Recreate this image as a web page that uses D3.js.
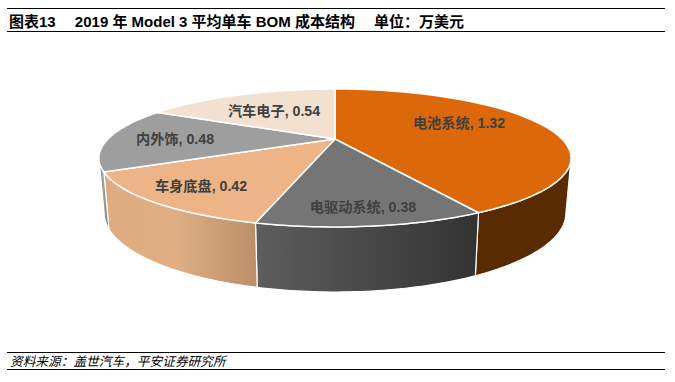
<!DOCTYPE html>
<html><head><meta charset="utf-8">
<script src="https://cdnjs.cloudflare.com/ajax/libs/d3/7.8.5/d3.min.js"></script>
<style>
html,body{margin:0;padding:0;background:#fff;overflow:hidden}
text{font-family:"Liberation Sans","Noto Sans CJK SC",sans-serif}
</style></head><body>
<svg id="c" width="675" height="382"></svg>
<script>
const categories=["电池系统","电驱动系统","车身底盘","内外饰","汽车电子"];
const values=[1.32,0.38,0.42,0.48,0.54];
const topColors=["#DC680A","#757575","#EDB487","#9E9E9E","#F2E0D0"];
const sideStart=["#582B03","#5E5E5E","#DFAC80","#8F8F8F","#F2E0D0"];
const sideMid=["#582B03","#4A4A4A","#E2AF85","#A0A0A0","#F2E0D0"];
const sideEnd=["#582B03","#333333","#BA8F68","#808080","#F2E0D0"];
const labelPos=[[459,122.5],[363,207],[201,186],[175,139],[274,111]];
const titleText="图表13\u3000 2019 年 Model 3 平均单车 BOM 成本结构\u3000 单位：万美元";
const sourceText="资料来源：盖世汽车，平安证券研究所";

const svg=d3.select("#c");
const k=0.275, cx=335;
const top3={a:227,b:63.75,cy:139};
const bot3={a:222,b:73,cy:191.3};
const xS=r=>d3.scaleLinear().domain([-1,1]).range([cx-r.a,cx+r.a]);
const yS=r=>d3.scaleLinear().domain([-1,1]).range([r.cy-r.b,r.cy+r.b]);
function proj(r,t){
  const u=Math.sin(t), v=-Math.cos(t), d=1-k*v;
  return [xS(r)(u/d),yS(r)(v/d)];
}
const pie=d3.pie().sort(null)(values);
const line=d3.line();
const samples=(a,b)=>d3.range(0,41).map(i=>a+(b-a)*i/40);
const visA=1.85, visB=2*Math.PI-1.85;

const defs=svg.append("defs");
categories.forEach((c,i)=>{
  const g=defs.append("linearGradient").attr("id","g"+i);
  g.append("stop").attr("offset","0%").attr("stop-color",sideStart[i]);
  g.append("stop").attr("offset","45%").attr("stop-color",sideMid[i]);
  g.append("stop").attr("offset","100%").attr("stop-color",sideEnd[i]);
});

// side walls, front half only
svg.append("g").selectAll("path").data(pie.filter(d=>d.endAngle>visA&&d.startAngle<visB)).join("path")
  .attr("d",d=>{
    const ts=samples(Math.max(d.startAngle,visA),Math.min(d.endAngle,visB));
    return line(ts.map(t=>proj(top3,t)).concat(ts.slice().reverse().map(t=>proj(bot3,t))))+"Z";
  })
  .attr("fill",d=>`url(#g${d.index})`)
  .attr("stroke","#fff").attr("stroke-width",1.2).attr("stroke-linejoin","round");

// top faces
svg.append("g").selectAll("path").data(pie).join("path")
  .attr("d",d=>{
    const pts=[[cx,top3.cy]].concat(samples(d.startAngle,d.endAngle).map(t=>proj(top3,t)));
    return line(pts)+"Z";
  })
  .attr("fill",d=>topColors[d.index])
  .attr("stroke","#fff").attr("stroke-width",1.5).attr("stroke-linejoin","round");

// labels
svg.append("g").selectAll("text").data(pie).join("text")
  .attr("x",d=>labelPos[d.index][0]).attr("y",d=>labelPos[d.index][1])
  .attr("dy","0.36em").attr("text-anchor","middle")
  .attr("font-size",14.2).attr("font-weight","bold").attr("fill","#404040")
  .text(d=>`${categories[d.index]}, ${d3.format(".2f")(d.value)}`);

// frame rules
[[8,1],[31,1],[352,1],[369,1]].forEach(([y,w])=>{
  svg.append("line").attr("x1",7).attr("x2",665).attr("y1",y+0.5).attr("y2",y+0.5)
    .attr("stroke","#000").attr("stroke-width",w).attr("shape-rendering","crispEdges");
});
svg.append("text").attr("x",9).attr("y",27).attr("font-size",15).attr("font-weight","bold").attr("fill","#000").text(titleText);
svg.append("text").attr("x",10).attr("y",366).attr("font-size",12.7).attr("font-style","italic").attr("fill","#000").text(sourceText);
</script></body></html>
